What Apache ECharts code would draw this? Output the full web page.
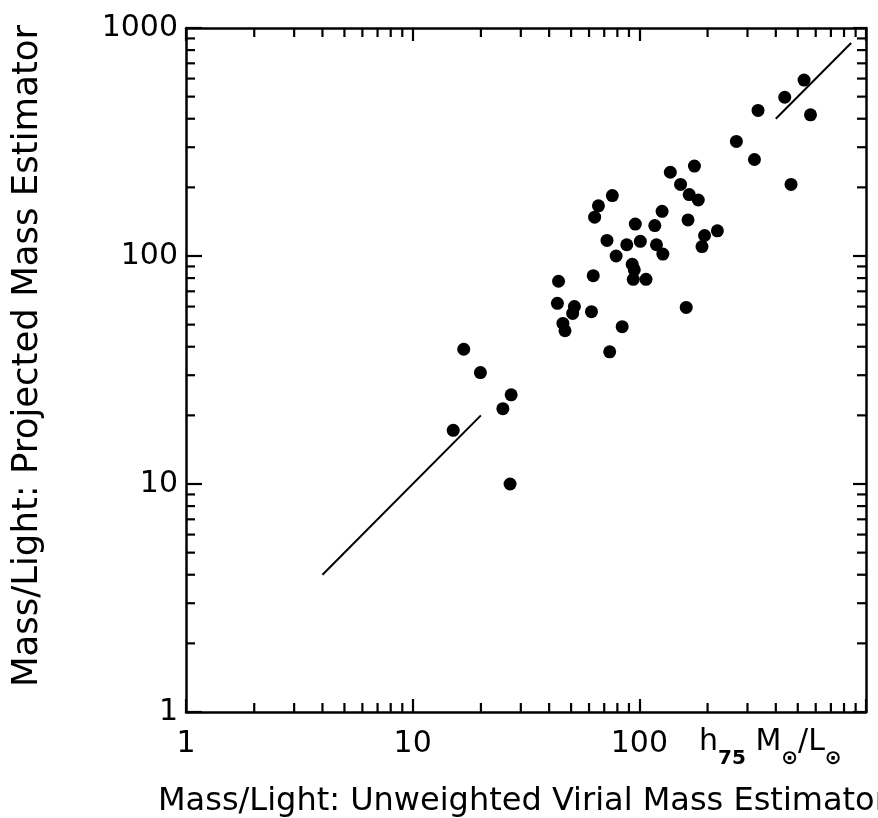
<!DOCTYPE html>
<html>
<head>
<meta charset="utf-8">
<script src="https://cdn.jsdelivr.net/npm/echarts@6/dist/echarts.min.js"></script>
<style>
  html, body { margin: 0; padding: 0; background: #fff; }
  #chart { width: 878px; height: 818px; }
</style>
</head>
<body>
<div id="chart"></div>
<script>
// unweighted virial M/L (x) vs projected M/L (y), h75 Msun/Lsun
const virialML = [
  268, 175, 137, 152, 166, 182, 76, 66, 63.5, 126,
  164, 96, 117, 221, 194, 189, 72, 88, 101, 119,
  127, 79, 93, 95, 94, 107, 62.6, 44, 43.5, 51.7,
  50.8, 61.5, 161, 46, 47, 84, 74, 16.8, 19.9, 533,
  438, 334, 569, 322, 467, 27.2, 25, 15.1, 26.9
];
const projectedML = [
  318, 248, 233, 206, 186, 176, 184, 166, 148, 157,
  144, 138, 136, 129, 123, 110, 117, 112, 116, 112,
  102, 100, 92, 87, 79, 79, 82, 77.5, 62, 60,
  56, 57, 59.5, 50.6, 47, 49, 38, 39, 30.8, 591,
  497, 435, 416, 265, 206, 24.6, 21.4, 17.2, 10
];

// the two y = x segments
const equalLow = [4, 20];
const equalHigh = [400, 860];

const minorTicks = [2, 3, 4, 5, 6, 7, 8, 9, 20, 30, 40, 50, 60, 70, 80, 90, 200, 300, 400, 500, 600, 700, 800, 900];

const FONT = 'DejaVu Sans';
const MINOR_LEN = 9;

const chart = echarts.init(document.getElementById('chart'), null, { renderer: 'canvas' });

const points = virialML.map((x, i) => [x, projectedML[i]]);

function minorTickItem(isX) {
  return function (params, api) {
    const v = api.value(isX ? 0 : 1);
    const style = { stroke: '#000', lineWidth: 2.2 };
    if (isX) {
      const b = api.coord([v, 1]);
      const t = api.coord([v, 1000]);
      return {
        type: 'group',
        children: [
          { type: 'line', shape: { x1: b[0], y1: b[1], x2: b[0], y2: b[1] - MINOR_LEN }, style: style },
          { type: 'line', shape: { x1: t[0], y1: t[1], x2: t[0], y2: t[1] + MINOR_LEN }, style: style }
        ]
      };
    }
    const l = api.coord([1, v]);
    const r = api.coord([1000, v]);
    return {
      type: 'group',
      children: [
        { type: 'line', shape: { x1: l[0], y1: l[1], x2: l[0] + MINOR_LEN, y2: l[1] }, style: style },
        { type: 'line', shape: { x1: r[0], y1: r[1], x2: r[0] - MINOR_LEN, y2: r[1] }, style: style }
      ]
    };
  };
}

const axisLine = { show: true, lineStyle: { color: '#000', width: 2.5 } };

const option = {
  backgroundColor: '#fff',
  animation: false,
  grid: { left: 186, right: 12, top: 28, bottom: 106 },
  xAxis: [
    {
      type: 'log', logBase: 10, min: 1, max: 1000,
      axisLine: axisLine,
      axisTick: { inside: true, length: 13, lineStyle: { color: '#000', width: 2.2 } },
      axisLabel: {
        color: '#000', fontFamily: FONT, fontSize: 30, margin: 17,
        formatter: (v) => (v >= 1000 ? '' : String(v))
      },
      splitLine: { show: false }
    },
    {
      type: 'log', logBase: 10, min: 1, max: 1000, position: 'top',
      axisLine: axisLine,
      axisTick: { inside: true, length: 13, lineStyle: { color: '#000', width: 2.2 } },
      axisLabel: { show: false },
      splitLine: { show: false }
    }
  ],
  yAxis: [
    {
      type: 'log', logBase: 10, min: 1, max: 1000,
      axisLine: axisLine,
      axisTick: { inside: true, length: 16, lineStyle: { color: '#000', width: 2.2 } },
      axisLabel: {
        color: '#000', fontFamily: FONT, fontSize: 30, margin: 8,
        formatter: (v) => String(v)
      },
      splitLine: { show: false }
    },
    {
      type: 'log', logBase: 10, min: 1, max: 1000, position: 'right',
      axisLine: axisLine,
      axisTick: { inside: true, length: 13, lineStyle: { color: '#000', width: 2.2 } },
      axisLabel: { show: false },
      splitLine: { show: false }
    }
  ],
  graphic: [
    {
      type: 'text', left: 158, top: 786,
      style: {
        text: 'Mass/Light: Unweighted Virial Mass Estimator',
        fill: '#000', font: '32px "DejaVu Sans"'
      }
    },
    {
      type: 'text', x: 28, y: 356, rotation: Math.PI / 2,
      style: {
        text: 'Mass/Light: Projected Mass Estimator',
        fill: '#000', font: '35.5px "DejaVu Sans"',
        align: 'center', verticalAlign: 'middle'
      }
    },
    {
      type: 'text', left: 699, top: 727,
      style: {
        text: '{n|h}{s|75}{n| M}{s|⊙}{n|/L}{s|⊙}',
        rich: {
          n: { fontFamily: FONT, fontSize: 30, lineHeight: 42, verticalAlign: 'top', fill: '#000' },
          s: { fontFamily: FONT, fontSize: 20, fontWeight: 'bold', lineHeight: 42, verticalAlign: 'bottom', fill: '#000' }
        }
      }
    }
  ],
  series: [
    {
      type: 'scatter',
      data: points,
      symbol: 'circle',
      symbolSize: 13,
      itemStyle: { color: '#000', opacity: 1 }
    },
    {
      type: 'line',
      data: equalLow.map((v) => [v, v]),
      showSymbol: false,
      lineStyle: { color: '#000', width: 2 }
    },
    {
      type: 'line',
      data: equalHigh.map((v) => [v, v]),
      showSymbol: false,
      lineStyle: { color: '#000', width: 2 }
    },
    {
      type: 'custom',
      clip: false,
      silent: true,
      data: minorTicks.map((v) => [v, 1]),
      renderItem: minorTickItem(true)
    },
    {
      type: 'custom',
      clip: false,
      silent: true,
      data: minorTicks.map((v) => [1, v]),
      renderItem: minorTickItem(false)
    }
  ]
};

chart.setOption(option);
</script>
</body>
</html>
